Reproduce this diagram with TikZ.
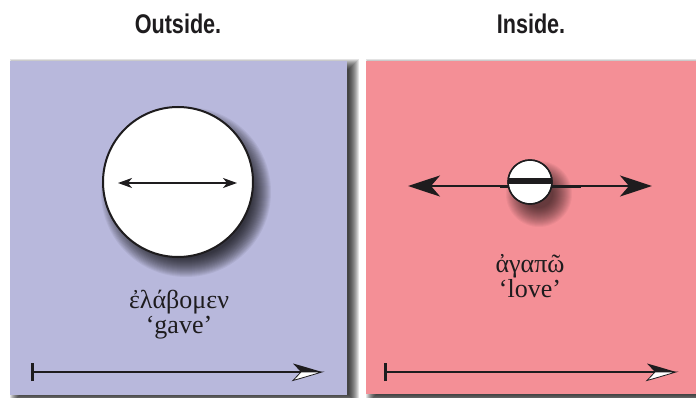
\documentclass[tikz,border=0pt]{standalone}
\usepackage{fontspec}
\setmainfont{Liberation Serif}
\newfontfamily\titlefont[FakeStretch=0.8]{Liberation Sans}
\usetikzlibrary{arrows.meta}
\definecolor{panelblue}{RGB}{184,184,220}
\definecolor{panelpink}{RGB}{244,143,150}
\definecolor{ink}{RGB}{30,28,30}
\tikzset{
  titletext/.style={font=\titlefont\bfseries\fontsize{27}{30}\selectfont, text=ink, inner sep=0pt},
  greektext/.style={font=\fontsize{26}{25}\selectfont, text=ink, inner sep=0pt, align=center},
  disc/.style={circle, draw=ink, fill=white, inner sep=0pt},
  halfhead/.pic={
    \fill[ink] (0,0) .. controls (-10,-3) and (-20,-6) .. (-29,-8.5) -- (-21,0) -- cycle;
    \filldraw[fill=white, draw=ink, line width=0.8pt] (0,0) .. controls (-10,3) and (-20,6) .. (-29,8.5) -- (-21,0) -- cycle;
  },
  timeline/.style={draw=ink, line width=2pt},
}
\begin{document}
\begin{tikzpicture}[x=1pt,y=-1pt]
\useasboundingbox (0,0) rectangle (696,398);
\fill[white] (0,0) rectangle (696,398);
% panel shadows
\foreach \e in {-4,...,6} {
  \fill[black, opacity=0.11] (16-\e,65-\e) rectangle (353+\e,399+\e);
  \fill[black, opacity=0.11] (372-\e,65-\e) rectangle (710+\e,399+\e);
}
% panels
\fill[panelblue] (10,61) rectangle (347,395);
\fill[panelpink] (366,61) rectangle (700,394);
% titles
\node[titletext] (tout) at (178,24) {Outside.};
\node[titletext] (tin) at (531,24) {Inside.};
% left disc shadow
\foreach \e in {-9,...,10} {
  \fill[black, opacity=0.055] (186,192) circle[radius=75+\e];
}
\node[disc, minimum size=150pt, line width=2pt] (bigc) at (178,182) {};
\coordinate (la) at (118,183);
\coordinate (lb) at (237,183);
\draw[ink, line width=1.6pt, {Stealth[length=14pt,width=10pt,inset=4pt]}-{Stealth[length=14pt,width=10pt,inset=4pt]}] (la) -- (lb);
% right disc shadow
\foreach \e in {-8,...,11} {
  \fill[black, opacity=0.04] (539,194) circle[radius=22+\e];
}
\coordinate (ra) at (408,186);
\coordinate (rb) at (652,186);
\coordinate (rc) at (500,186.5);
\coordinate (rd) at (581,186.5);
\draw[ink, line width=2.6pt, {Stealth[length=32pt,width=21pt,inset=9pt]}-{Stealth[length=32pt,width=21pt,inset=9pt]}] (ra) -- (rb);
\draw[ink, line width=3.6pt] (rc) -- (rd);
\node[disc, minimum size=44pt, line width=1.4pt] (smallc) at (530,182) {};
\begin{scope}
  \clip (smallc.center) circle[radius=22];
  \fill[ink] (506,178) rectangle (555,184.5);
\end{scope}
\draw[ink, line width=1.4pt] (smallc.center) circle[radius=22];
% Greek texts
\node[greektext] (gl) at (179,315) {ἐλάβομεν\\‘gave’};
\node[greektext] (gr) at (530,276) {ἀγαπῶ\\‘love’};
% bottom timelines
\coordinate (ls) at (32,372);
\coordinate (le) at (322,372);
\draw[timeline] (ls) -- ([xshift=-20pt]le);
\draw[ink, line width=3pt] ([yshift=-9pt]ls) -- ([yshift=9pt]ls);
\pic at (le) {halfhead};
\coordinate (rs) at (385,372);
\coordinate (re) at (676,372);
\draw[timeline] (rs) -- ([xshift=-20pt]re);
\draw[ink, line width=3pt] ([yshift=-9pt]rs) -- ([yshift=9pt]rs);
\pic at (re) {halfhead};
\end{tikzpicture}
\end{document}
